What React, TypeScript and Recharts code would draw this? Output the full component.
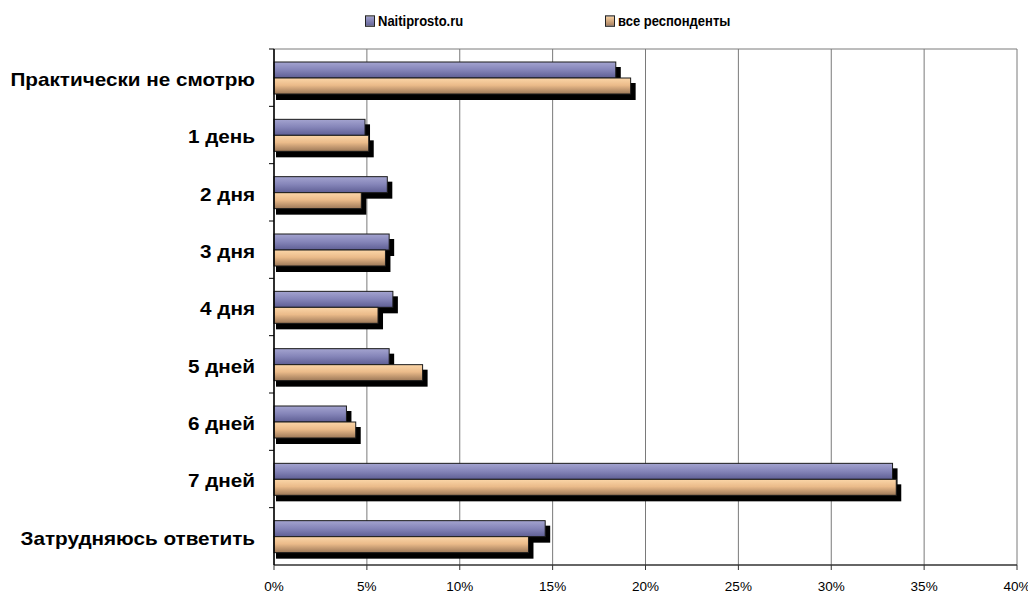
import React from "react";
import { BarChart, Bar, XAxis, YAxis, CartesianGrid } from "recharts";

const categories = [
  "Практически не смотрю",
  "1 день",
  "2 дня",
  "3 дня",
  "4 дня",
  "5 дней",
  "6 дней",
  "7 дней",
  "Затрудняюсь ответить",
];
const naitiprosto = [18.4, 4.9, 6.1, 6.2, 6.4, 6.2, 3.9, 33.3, 14.6];
const allRespondents = [19.2, 5.1, 4.7, 6.0, 5.6, 8.0, 4.4, 33.5, 13.7];
const xTicks = [0, 5, 10, 15, 20, 25, 30, 35, 40];
const seriesNames = ["Naitiprosto.ru", "все респонденты"];

const data = categories.map((name, i) => ({
  name,
  a: naitiprosto[i],
  b: allRespondents[i],
}));

const W = 1028;
const H = 588;
const M = { top: 41, right: 19, bottom: 1, left: 0 };
const Y_W = 266;
const X_H = 30;
const plotH = H - M.top - M.bottom - X_H;
const band = plotH / categories.length;
const FONT = "'Liberation Sans', Arial, sans-serif";

const ShadowBar = (gradId: string) => (props: any) => {
  const { x, y, width, height } = props;
  if (width == null || width <= 0) return null;
  return (
    <g>
      <rect x={x + 2} y={y + 5} width={width + 3} height={height + 1} fill="#000" />
      <rect x={x} y={y} width={width} height={height} fill={`url(#${gradId})`} stroke="#1a1a1a" strokeWidth={1} />
    </g>
  );
};

const YTick = (props: any) => {
  const { y, payload } = props;
  const axisX = M.left + Y_W;
  const top = y - band / 2;
  return (
    <g>
      <line x1={axisX - 5} x2={axisX} y1={top} y2={top} stroke="#000" strokeWidth={1} />
      <text
        transform={`translate(${axisX - 19},${y + 2}) scale(1.15,1)`}
        x={0}
        y={0}
        textAnchor="end"
        dominantBaseline="central"
        fontFamily={FONT}
        fontWeight="bold"
        fontSize={18}
        fill="#000"
      >
        {payload.value}
      </text>
    </g>
  );
};

const LegendBox = ({ color1, color2, left, label }: any) => (
  <div
    style={{
      position: "absolute",
      left,
      top: 5,
      display: "flex",
      alignItems: "center",
      fontFamily: FONT,
      fontWeight: "bold",
      fontSize: 13,
      color: "#000",
      whiteSpace: "nowrap",
      transform: "scaleY(1.15)",
    }}
  >
    <span
      style={{
        display: "inline-block",
        width: 8,
        height: 8,
        border: "1px solid #222",
        background: `linear-gradient(${color1}, ${color2})`,
        marginRight: 3,
      }}
    />
    {label}
  </div>
);

export default function App() {
  return (
    <div style={{ position: "relative", width: W, height: H }}>
      <LegendBox left={357} color1="#a0a0cc" color2="#65659a" label={seriesNames[0]} />
      <LegendBox left={597} color1="#f8d0a0" color2="#a88060" label={seriesNames[1]} />
      <BarChart
        width={W}
        height={H}
        data={data}
        layout="vertical"
        margin={M}
        barSize={16}
        barGap={0}
      >
        <defs>
          <linearGradient id="gBlue" x1="0" y1="0" x2="0" y2="1">
            <stop offset="0%" stopColor="#a4a4d0" />
            <stop offset="50%" stopColor="#8484b8" />
            <stop offset="100%" stopColor="#5e5e94" />
          </linearGradient>
          <linearGradient id="gOrange" x1="0" y1="0" x2="0" y2="1">
            <stop offset="0%" stopColor="#fbd6a8" />
            <stop offset="45%" stopColor="#ebbb8a" />
            <stop offset="100%" stopColor="#9c7858" />
          </linearGradient>
        </defs>
        <CartesianGrid
          stroke="#7a7a7a"
          strokeWidth={1}
          horizontal={true}
          vertical={true}
          horizontalCoordinatesGenerator={({ offset }: any) => [offset.top]}
        />
        <XAxis
          type="number"
          domain={[0, 40]}
          ticks={xTicks}
          interval={0}
          tickFormatter={(v: number) => `${v}%`}
          height={X_H}
          tickSize={5}
          tickMargin={11}
          axisLine={{ stroke: "#333", strokeWidth: 1.5 }}
          tickLine={{ stroke: "#333" }}
          tick={{ fill: "#000", fontSize: 13.5, fontFamily: FONT }}
        />
        <YAxis
          type="category"
          dataKey="name"
          width={Y_W}
          tickSize={0}
          tickMargin={19}
          tickLine={false}
          axisLine={{ stroke: "#000", strokeWidth: 1.5 }}
          tick={<YTick />}
          interval={0}
        />
        <Bar dataKey="a" name={seriesNames[0]} isAnimationActive={false} shape={ShadowBar("gBlue")} />
        <Bar dataKey="b" name={seriesNames[1]} isAnimationActive={false} shape={ShadowBar("gOrange")} />
      </BarChart>
    </div>
  );
}
